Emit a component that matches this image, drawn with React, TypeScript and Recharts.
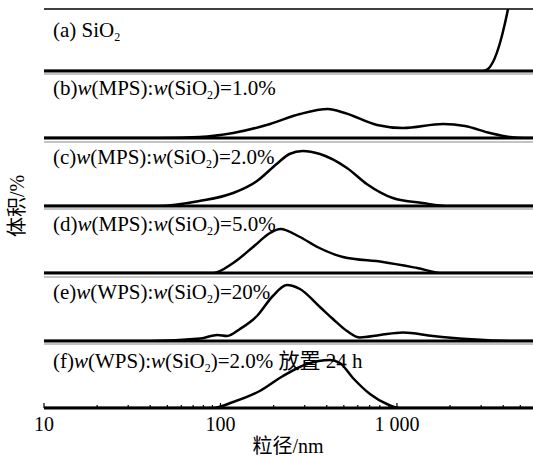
import { LineChart, Line, XAxis, YAxis, ReferenceLine } from "recharts";

// particle size (nm) and relative volume
const SIZE_A = [10, 3069, 3279, 3500, 3834, 4095, 4256, 4487, 4800, 5900];
const VOL_A = [0, 0, 2, 9, 28, 48, 62, 90, 130, 220];

const SIZE_B = [10, 44, 76, 118, 191, 282, 406, 507, 771, 1081, 1823, 2427, 3365, 4366, 5305, 5900];
const VOL_B = [0, 0, 1, 5, 14, 24, 29, 25, 13, 10, 14, 12, 5, 1, 0, 0];

const SIZE_C = [10, 44, 76, 118, 161, 208, 246, 292, 366, 521, 674, 947, 1393, 1980, 5900];
const VOL_C = [0, 0, 5, 13, 25, 42, 52, 55, 52, 38, 22, 8, 3, 0, 0];

const SIZE_D = [10, 91, 118, 153, 191, 218, 282, 354, 494, 833, 1300, 1823, 5900];
const VOL_D = [0, 0, 10, 26, 40, 44, 36, 26, 16, 11, 5, 0, 0];

const SIZE_E = [10, 40, 77, 96, 109, 129, 161, 198, 238, 282, 366, 434, 521, 617, 801, 1081, 1600, 2494, 4366, 5900];
const VOL_E = [0, 0, 2.5, 6, 5, 12, 25, 45, 56, 52, 34, 22, 10, 3.5, 6, 8.5, 5, 2, 0, 0];

const SIZE_F = [10, 90, 118, 167, 226, 309, 417, 475, 563, 703, 877, 1040, 5900];
const VOL_F = [0, 0, 6, 17, 32, 44, 48, 45, 30, 14, 4, 0, 0];

const X_TICKS = [10, 20, 30, 40, 50, 60, 70, 80, 90, 100, 200, 300, 400, 500, 600, 700, 800, 900, 1000, 2000, 3000, 4000, 5000];
const MAJOR_LABELS: Record<number, string> = { 10: "10", 100: "100", 1000: "1 000" };

const PITCH = 67.4;
const FIRST_BOTTOM = 71;
const FIRST_H = 62;
const PANEL_H = 64;
const SERIF = "'Liberation Serif', 'Times New Roman', 'Noto Sans CJK SC', serif";

const zip = (s: number[], v: number[]) => s.map((size, i) => ({ size, vol: v[i] }));

const PANELS = [
  zip(SIZE_A, VOL_A),
  zip(SIZE_B, VOL_B),
  zip(SIZE_C, VOL_C),
  zip(SIZE_D, VOL_D),
  zip(SIZE_E, VOL_E),
  zip(SIZE_F, VOL_F),
];

function SizeTick(props: any) {
  const { x, y, payload } = props;
  const label = MAJOR_LABELS[payload.value];
  const len = label ? 5 : 3;
  return (
    <g>
      <line x1={x} x2={x} y1={y} y2={y - len} stroke="#000" strokeWidth={1.2} />
      {label && (
        <text x={x} y={y + 23} textAnchor="middle" fontFamily={SERIF} fontSize={20} fill="#000">
          {label}
        </text>
      )}
    </g>
  );
}

function Panel({ data, index }: { data: { size: number; vol: number }[]; index: number }) {
  const first = index === 0;
  const last = index === PANELS.length - 1;
  const h = first ? FIRST_H : PANEL_H;
  const axisH = last ? 30 : 0;
  const bottom = FIRST_BOTTOM + index * PITCH;
  const top = bottom - h - 2;
  return (
    <div style={{ position: "absolute", left: 0, top }}>
      <LineChart
        width={533}
        height={2 + h + axisH + 3}
        data={data}
        margin={{ top: 2, right: 0, bottom: 3, left: 44 }}
      >
        <XAxis
          dataKey="size"
          type="number"
          scale="log"
          domain={[10, 5900]}
          allowDataOverflow
          hide={!last}
          ticks={X_TICKS}
          interval={0}
          height={axisH}
          tickSize={0}
          tickMargin={0}
          tickLine={false}
          tick={<SizeTick />}
          axisLine={false}
        />
        <YAxis
          type="number"
          domain={[0, h]}
          allowDataOverflow
          width={0}
          tick={false}
          tickLine={false}
          axisLine={{ stroke: "#000", strokeWidth: 2 }}
        />
        <ReferenceLine
          y={h}
          stroke={first ? "#000" : "#888"}
          strokeWidth={first ? 1.5 : 1}
        />
        <ReferenceLine y={0} stroke="#000" strokeWidth={3} />
        <Line
          type="monotone"
          dataKey="vol"
          stroke="#000"
          strokeWidth={2.5}
          dot={false}
          isAnimationActive={false}
        />
      </LineChart>
    </div>
  );
}

function Sub({ after }: { after: string }) {
  return (
    <>
      <tspan fontSize={12} dy={4}>2</tspan>
      <tspan dy={-4}>{after}</tspan>
    </>
  );
}

function RatioLabel({ tag, agent, rest }: { tag: string; agent: string; rest: string }) {
  return (
    <>
      <tspan>{tag}</tspan>
      <tspan fontStyle="italic">w</tspan>
      <tspan>{`(${agent}):`}</tspan>
      <tspan fontStyle="italic">w</tspan>
      <tspan>(SiO</tspan>
      <Sub after={rest} />
    </>
  );
}

export default function App() {
  return (
    <div style={{ position: "absolute", left: 0, top: 0, width: 533, height: 457, background: "#fff" }}>
      {PANELS.map((d, i) => (
        <Panel key={i} data={d} index={i} />
      ))}
      <svg
        width={533}
        height={457}
        style={{ position: "absolute", left: 0, top: 0, pointerEvents: "none" }}
        fontFamily={SERIF}
        fontSize={21}
        fill="#000"
      >
        <text x={53} y={37}>
          <tspan>(a) SiO</tspan>
          <Sub after="" />
        </text>
        <text x={53} y={95}>
          <RatioLabel tag="(b)" agent="MPS" rest=")=1.0%" />
        </text>
        <text x={53} y={164}>
          <RatioLabel tag="(c)" agent="MPS" rest=")=2.0%" />
        </text>
        <text x={53} y={231}>
          <RatioLabel tag="(d)" agent="MPS" rest=")=5.0%" />
        </text>
        <text x={53} y={299}>
          <RatioLabel tag="(e)" agent="WPS" rest=")=20%" />
        </text>
        <text x={53} y={368}>
          <RatioLabel tag="(f)" agent="WPS" rest=")=2.0% 放置 24 h" />
        </text>
        <text x={288} y={453} textAnchor="middle" fontSize={20}>粒径/nm</text>
        <text transform="translate(24,206) rotate(-90)" textAnchor="middle" fontSize={20}>体积/%</text>
      </svg>
    </div>
  );
}
